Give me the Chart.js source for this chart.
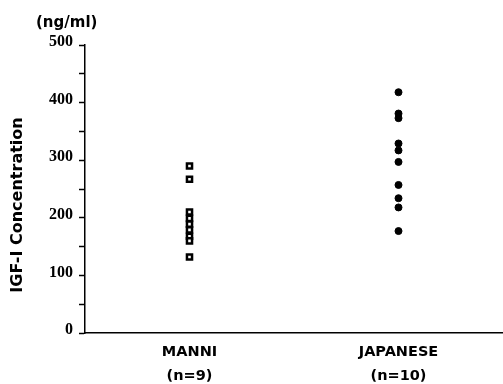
<!DOCTYPE html>
<html><head><meta charset="utf-8">
<script src="https://cdn.jsdelivr.net/npm/chart.js@4.4.0/dist/chart.umd.min.js"></script>
<style>html,body{margin:0;padding:0;background:#fff}canvas{display:block}</style>
</head><body>
<canvas id="c" width="503" height="384"></canvas>
<script>
const categories = [["MANNI","(n=9)"],["JAPANESE","(n=10)"]];
const manniValues = [290, 267, 210, 199, 189, 179, 168, 160, 132];
const japaneseValues = [418, 381, 373, 329, 317, 297, 257, 234, 218, 177];
const yTicks = [0, 50, 100, 150, 200, 250, 300, 350, 400, 450, 500];
const unitLabel = "(ng/ml)";
const yTitle = "IGF-I Concentration";

const textPlugin = {
  id: 'texts',
  afterDraw(chart) {
    const ctx = chart.ctx, ca = chart.chartArea;
    ctx.save();
    ctx.fillStyle = '#000';
    ctx.font = 'bold 15px "DejaVu Sans", sans-serif';
    ctx.textAlign = 'left';
    ctx.textBaseline = 'middle';
    ctx.fillText(unitLabel, 36, 23);
    ctx.translate(18, (ca.top + ca.bottom) / 2 + 16);
    ctx.rotate(-Math.PI / 2);
    ctx.textAlign = 'center';
    ctx.font = 'bold 16px "DejaVu Sans", sans-serif';
    ctx.fillText(yTitle, 0, 0);
    ctx.restore();
  }
};

new Chart(document.getElementById('c'), {
  type: 'scatter',
  data: {
    datasets: [
      { data: manniValues.map(v => ({x: 0, y: v})), pointStyle: 'rect', pointRadius: 3.6,
        backgroundColor: '#fff', borderColor: '#000', borderWidth: 2.5 },
      { data: japaneseValues.map(v => ({x: 1, y: v})), pointStyle: 'circle', pointRadius: 3.5,
        backgroundColor: '#000', borderColor: '#000', borderWidth: 1 }
    ]
  },
  plugins: [textPlugin],
  options: {
    responsive: false,
    animation: false,
    layout: { autoPadding: false, padding: { top: 45, left: 0, right: 0, bottom: 0 } },
    plugins: { legend: { display: false }, tooltip: { enabled: false } },
    scales: {
      x: {
        type: 'linear', min: -0.5, max: 1.5,
        afterBuildTicks(s) { s.ticks = [{value: 0}, {value: 1}]; },
        afterFit(s) { s.height = 51; },
        border: { color: '#000', width: 1.5 },
        grid: { display: false, drawTicks: false },
        ticks: {
          padding: 7, color: '#000',
          font: { family: '"DejaVu Sans", sans-serif', size: 14.5, weight: 'bold', lineHeight: 1.65 },
          callback: (v) => categories[v]
        }
      },
      y: {
        min: 0, max: 500,
        afterBuildTicks(s) { s.ticks = yTicks.map(v => ({value: v})); },
        afterFit(s) { s.width = 85; },
        border: { color: '#000', width: 1.5 },
        grid: { drawOnChartArea: false, tickLength: 6, color: '#000', tickWidth: 1.5 },
        ticks: {
          padding: 6, color: '#000', labelOffset: -3, autoSkip: false,
          font: { family: '"Liberation Serif", serif', size: 16, weight: 'bold' },
          callback: (v) => (v % 100 === 0 ? String(v) : '')
        }
      }
    }
  }
});
</script>
</body></html>
